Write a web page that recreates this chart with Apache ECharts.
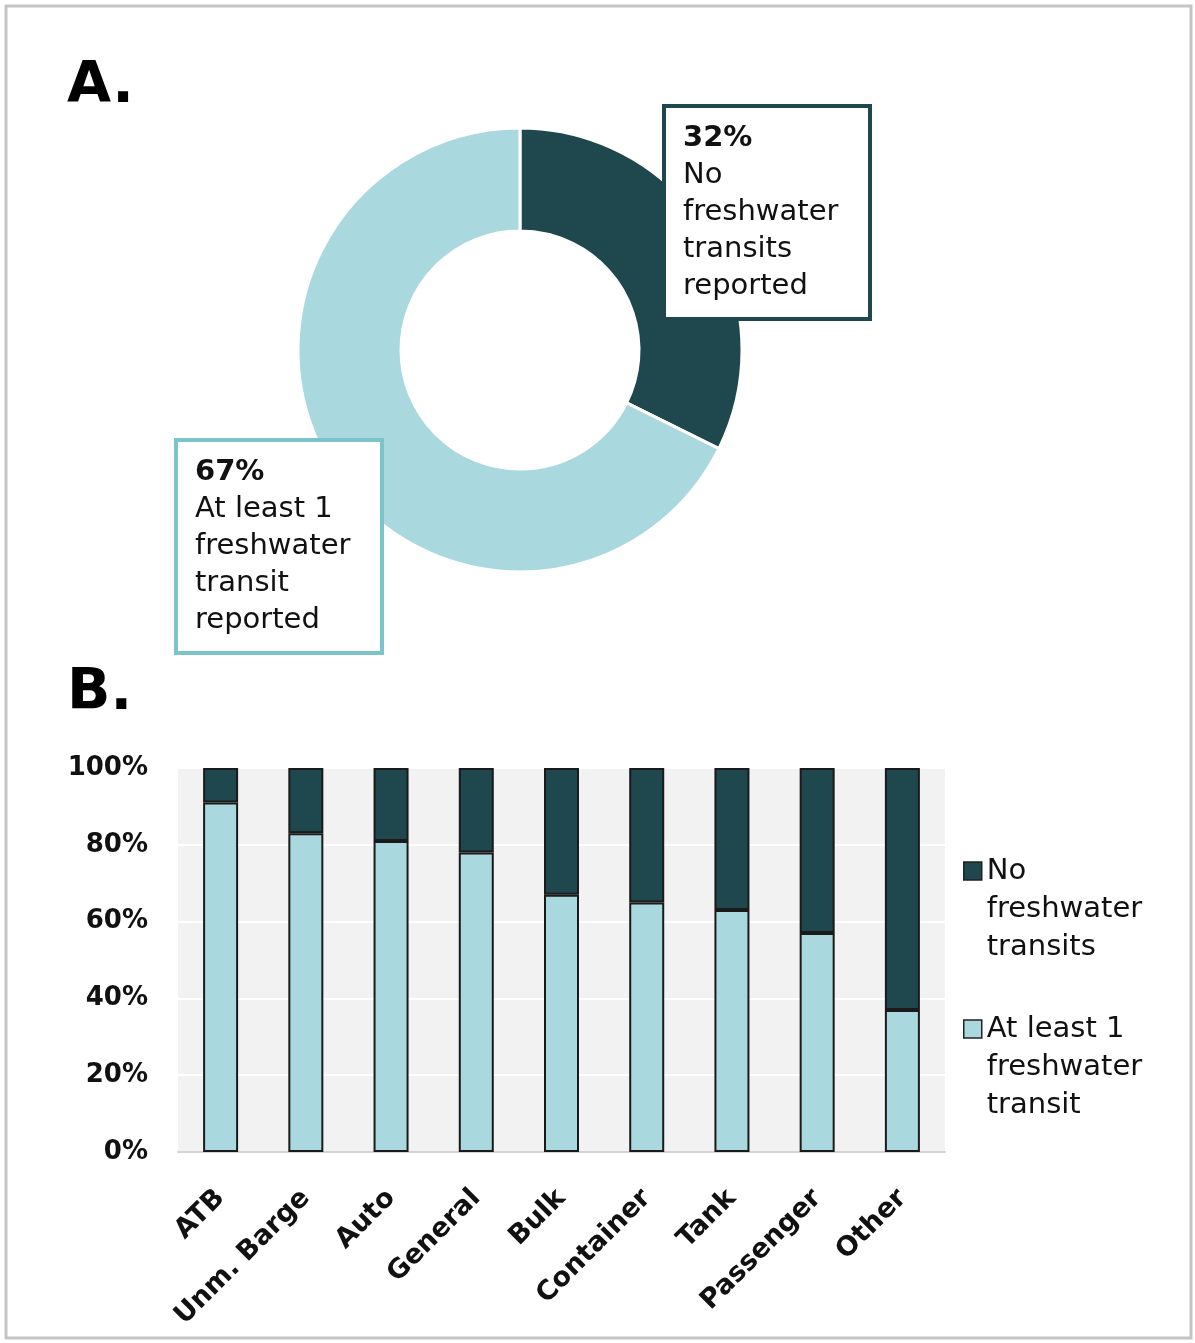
<!DOCTYPE html>
<html>
<head>
<meta charset="utf-8">
<script src="https://cdn.jsdelivr.net/npm/echarts@6/dist/echarts.min.js"></script>
<style>
html,body{margin:0;padding:0;background:#fff;}
#chart{width:1195px;height:1343px;}
</style>
</head>
<body>
<div id="chart"></div>
<script>
// ---- Data ----
const pieNames = ['No\nfreshwater\ntransits\nreported', 'At least 1\nfreshwater\ntransit\nreported'];
const pieValues = [32, 67];

const categories = ['ATB', 'Unm. Barge', 'Auto', 'General', 'Bulk', 'Container', 'Tank', 'Passenger', 'Other'];
const atLeastOne = [91, 83, 81, 78, 67, 65, 63, 57, 37];
const noFreshwater = [9, 17, 19, 22, 33, 35, 37, 43, 63];
const seriesNames = ['No\nfreshwater\ntransits', 'At least 1\nfreshwater\ntransit'];
const yTicks = [0, 20, 40, 60, 80, 100];

const DARK = '#1f474e';
const LIGHT = '#a9d9de';
const LIGHT_BORDER = '#7cc4cb';
const FONT = 'DejaVu Sans';

const chart = echarts.init(document.getElementById('chart'), null, {renderer: 'canvas'});

const boxPos = [
  {x: 666, y: 108, border: DARK},
  {x: 178, y: 442, border: LIGHT_BORDER}
];

const option = {
  backgroundColor: '#fff',
  animation: false,
  title: [
    {text: 'A.', left: 62, top: 54, textStyle: {fontFamily: FONT, fontWeight: 'bold', fontSize: 57, color: '#000'}},
    {text: 'B.', left: 62, top: 661, textStyle: {fontFamily: FONT, fontWeight: 'bold', fontSize: 57, color: '#000'}}
  ],
  graphic: [
    {type: 'rect', shape: {x: 6, y: 6, width: 1185, height: 1332}, style: {fill: 'none', stroke: '#c4c4c4', lineWidth: 3}, z: 100}
  ],
  legend: {
    data: seriesNames,
    orient: 'vertical',
    left: 963,
    top: 776,
    padding: 0,
    itemGap: -32,
    itemWidth: 18,
    itemHeight: 18,
    icon: 'rect',
    itemStyle: {borderColor: '#222', borderWidth: 1.5},
    formatter: name => '\n\n' + name,
    textStyle: {fontFamily: FONT, fontSize: 29, color: '#111', lineHeight: 38}
  },
  grid: {left: 178, right: 250, top: 768, bottom: 191, show: true, backgroundColor: '#f2f2f2', borderWidth: 0},
  xAxis: {
    type: 'category',
    data: categories,
    axisTick: {show: false},
    axisLine: {lineStyle: {color: '#d4d4d4', width: 2}},
    axisLabel: {interval: 0, rotate: 45, margin: 42, fontFamily: FONT, fontWeight: 'bold', fontSize: 27, color: '#111'}
  },
  yAxis: {
    type: 'value',
    min: yTicks[0],
    max: yTicks[yTicks.length - 1],
    interval: 20,
    axisLine: {show: false},
    axisTick: {show: false},
    splitLine: {lineStyle: {color: '#ffffff', width: 2}},
    axisLabel: {formatter: '{value}%', margin: 30, fontFamily: FONT, fontWeight: 'bold', fontSize: 26, color: '#111'}
  },
  series: [
    {
      type: 'pie',
      center: [520, 350],
      radius: [119, 222],
      startAngle: 90,
      clockwise: true,
      avoidLabelOverlap: false,
      itemStyle: {borderColor: '#fff', borderWidth: 3},
      labelLine: {show: false},
      emphasis: {disabled: true},
      data: pieNames.map((n, i) => ({name: n, value: pieValues[i], itemStyle: {color: i === 0 ? DARK : LIGHT},
        label: {borderColor: boxPos[i].border}})),
      label: {
        show: true,
        position: 'outside',
        formatter: p => '{p|' + p.value + '%}\n{n|' + p.name + '}',
        backgroundColor: '#fff',
        borderWidth: 4,
        padding: [12, 17, 12, 17],
        width: 168,
        height: 185,
        align: 'left',
        verticalAlign: 'top',
        rich: {
          p: {fontFamily: FONT, fontWeight: 'bold', fontSize: 29, lineHeight: 37, color: '#111'},
          n: {fontFamily: FONT, fontSize: 29, lineHeight: 37, color: '#111'}
        }
      },
      labelLayout: p => ({x: boxPos[p.dataIndex].x, y: boxPos[p.dataIndex].y, align: 'left', verticalAlign: 'top'})
    },
    {
      name: seriesNames[1],
      type: 'bar',
      stack: 'total',
      barWidth: 35,
      data: atLeastOne,
      itemStyle: {color: LIGHT, borderColor: '#1a1a1a', borderWidth: 2}
    },
    {
      name: seriesNames[0],
      type: 'bar',
      stack: 'total',
      barWidth: 35,
      data: noFreshwater,
      itemStyle: {color: DARK, borderColor: '#1a1a1a', borderWidth: 2}
    }
  ]
};
chart.setOption(option);
</script>
</body>
</html>
